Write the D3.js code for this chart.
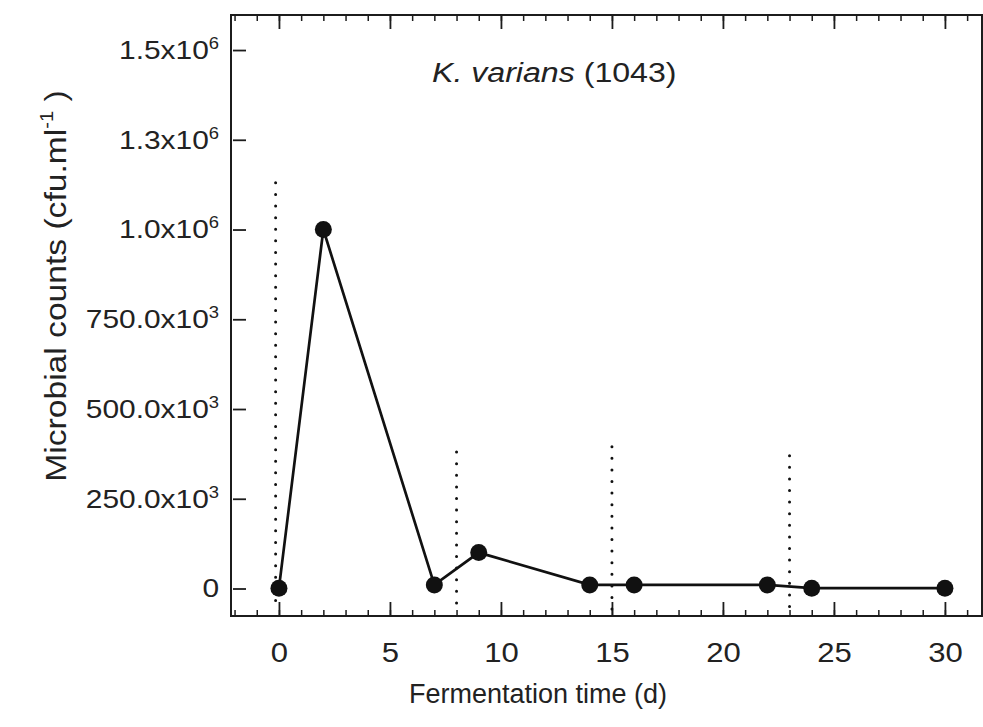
<!DOCTYPE html>
<html>
<head>
<meta charset="utf-8">
<script src="https://cdn.jsdelivr.net/npm/d3@7"></script>
<style>
  html, body { margin: 0; padding: 0; background: #ffffff; }
  svg { display: block; }
  text { font-family: "Liberation Sans", Arial, Helvetica, sans-serif; fill: #222; }
</style>
</head>
<body>
<svg id="chart" width="983" height="727"></svg>
<script>
// ---- data ----
const days = [0, 2, 7, 9, 14, 16, 22, 24, 30];
const counts = [1e3, 1.0e6, 10e3, 100e3, 10e3, 10e3, 10e3, 1e3, 1e3];

// phase boundaries (dotted vertical lines)
const phaseDays = [-0.15, 8, 15, 23];
const phaseTops = [1.13e6, 0.38e6, 0.395e6, 0.37e6];

// axis ticks
const xMajorTicks = [0, 5, 10, 15, 20, 25, 30];
const xMinorTicks = d3.range(-2, 32, 1);
const yTickValues = [0, 250e3, 500e3, 750e3, 1.0e6, 1.25e6, 1.5e6];
const yTickMantissa = ["0", "250.0", "500.0", "750.0", "1.0", "1.3", "1.5"];
const yTickExponent = ["", "3", "3", "3", "6", "6", "6"];

const titleItalic = "K. varians";
const titleRest = " (1043)";
const xTitle = "Fermentation time (d)";
const yTitleMain = "Microbial counts (cfu.ml";
const yTitleSup = "-1";
const yTitleEnd = " )";

// ---- layout ----
const svg = d3.select("#chart");
const L = 231, R = 982, T = 15, B = 616;
const ink = "#1c1c1c";

const x = d3.scaleLinear().domain([-2.16, 31.67]).range([L, R]);
const y = d3.scaleLinear().domain([-76.6e3, 1.5976e6]).range([B, T]);

// frame
svg.append("rect")
  .attr("x", L).attr("y", T).attr("width", R - L).attr("height", B - T)
  .attr("fill", "none").attr("stroke", ink).attr("stroke-width", 2);

// bottom axis: minor ticks
svg.append("g").attr("transform", `translate(0,${B})`)
  .call(d3.axisBottom(x).tickValues(xMinorTicks).tickSize(-6).tickFormat(""))
  .call(g => g.select(".domain").remove())
  .call(g => g.selectAll("line").attr("stroke", ink).attr("stroke-width", 1.5));

// bottom axis: major ticks + labels
const sx = 1.15;
svg.append("g").attr("transform", `translate(0,${B})`)
  .call(d3.axisBottom(x).tickValues(xMajorTicks).tickSize(-14).tickPadding(27).tickFormat(d3.format("d")))
  .call(g => g.select(".domain").remove())
  .call(g => g.selectAll("line").attr("stroke", ink).attr("stroke-width", 1.8))
  .call(g => g.selectAll("text")
    .attr("font-size", 27).attr("fill", "#222")
    .attr("font-family", "Liberation Sans, Arial, sans-serif")
    .attr("transform", function() { const yy = +d3.select(this).attr("y"); d3.select(this).attr("y", 0); return `translate(0,${yy}) scale(${sx},1)`; }));

// top axis ticks
svg.append("g").attr("transform", `translate(0,${T})`)
  .call(d3.axisTop(x).tickValues(xMinorTicks).tickSize(-6).tickFormat(""))
  .call(g => g.select(".domain").remove())
  .call(g => g.selectAll("line").attr("stroke", ink).attr("stroke-width", 1.5));
svg.append("g").attr("transform", `translate(0,${T})`)
  .call(d3.axisTop(x).tickValues(xMajorTicks).tickSize(-14).tickFormat(""))
  .call(g => g.select(".domain").remove())
  .call(g => g.selectAll("line").attr("stroke", ink).attr("stroke-width", 1.8));

// left axis
const yAxisG = svg.append("g").attr("transform", `translate(${L},0)`)
  .call(d3.axisLeft(y).tickValues(yTickValues).tickSize(-15).tickPadding(12).tickFormat(""))
  .call(g => g.select(".domain").remove())
  .call(g => g.selectAll("line").attr("stroke", ink).attr("stroke-width", 1.8).attr("x1", 2));

yAxisG.selectAll(".tick text").each(function(d, i) {
  const t = d3.select(this);
  const xx = +t.attr("x");
  t.attr("x", 0).attr("font-size", 26).attr("fill", "#222")
   .attr("font-family", "Liberation Sans, Arial, sans-serif")
   .attr("transform", `translate(${xx},0) scale(${sx},1)`);
  t.text(null);
  t.append("tspan").text(yTickMantissa[i] + (yTickExponent[i] ? "x10" : ""));
  if (yTickExponent[i]) {
    t.append("tspan").attr("font-size", 16).attr("dy", "-0.62em").text(yTickExponent[i]);
  }
});

// dotted phase lines
const yBottom = y.domain()[0];
svg.append("g").selectAll("line").data(phaseDays).join("line")
  .attr("x1", d => x(d)).attr("x2", d => x(d))
  .attr("y1", (d, i) => y(phaseTops[i])).attr("y2", y(yBottom) - 4)
  .attr("stroke", "#111").attr("stroke-width", 3)
  .attr("stroke-linecap", "round").attr("stroke-dasharray", "0,11.6");

// data line and points
const pts = days.map((d, i) => [d, counts[i]]);
svg.append("path").datum(pts)
  .attr("fill", "none").attr("stroke", "#111").attr("stroke-width", 2.7)
  .attr("d", d3.line().x(d => x(d[0])).y(d => y(d[1])));
svg.append("g").selectAll("circle").data(pts).join("circle")
  .attr("cx", d => x(d[0])).attr("cy", d => y(d[1])).attr("r", 8.5)
  .attr("fill", "#111");

// panel title
const tt = svg.append("text").attr("font-size", 27)
  .attr("transform", `translate(432,82) scale(1.19,1)`);
tt.append("tspan").attr("font-style", "italic").text(titleItalic);
tt.append("tspan").text(titleRest);

// x title
svg.append("text").attr("font-size", 27).attr("text-anchor", "middle")
  .attr("transform", `translate(538,703) scale(1.0,1)`)
  .text(xTitle);

// y title
const yt = svg.append("text").attr("font-size", 30).attr("text-anchor", "middle")
  .attr("transform", `translate(66,286) rotate(-90) scale(1.12,1)`);
yt.append("tspan").text(yTitleMain);
yt.append("tspan").attr("font-size", 18).attr("dy", "-0.75em").text(yTitleSup);
yt.append("tspan").attr("dy", "0.45em").text(yTitleEnd);
</script>
</body>
</html>
